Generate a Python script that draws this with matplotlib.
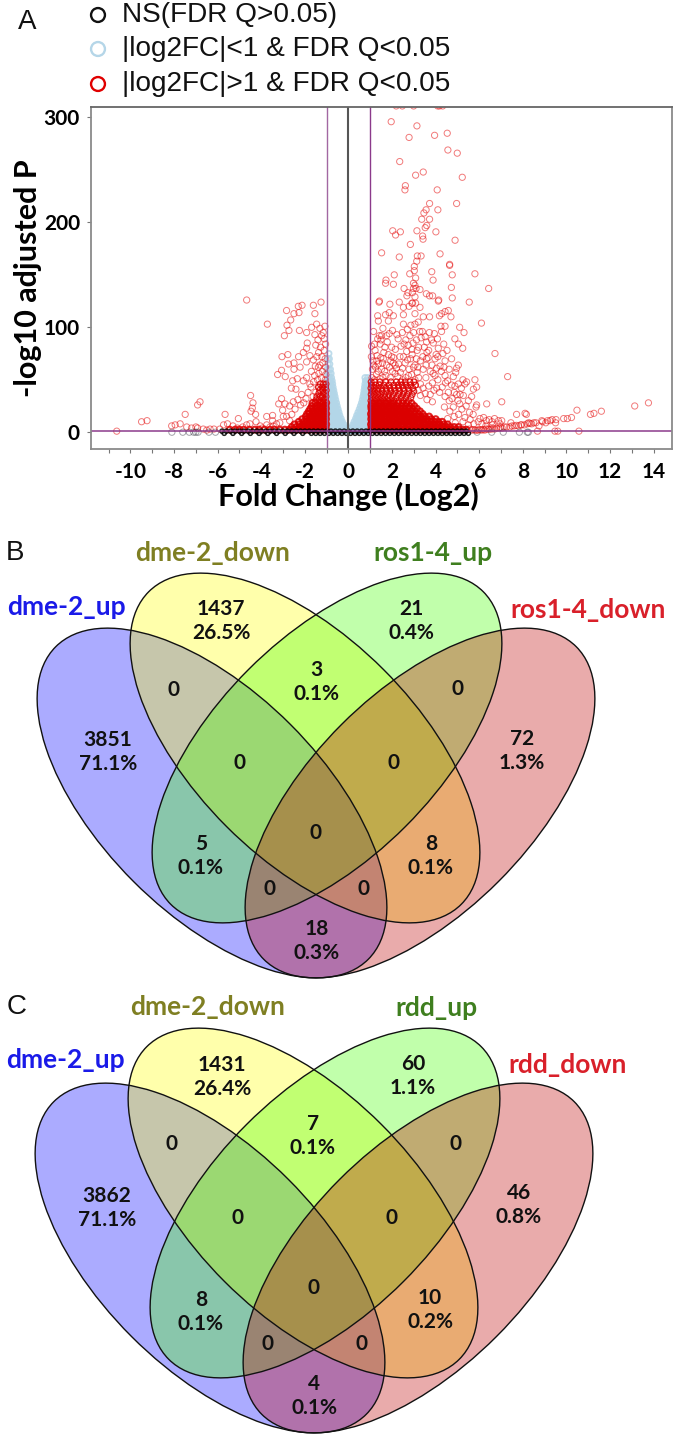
# Volcano plot and two four-way Venn diagrams

import matplotlib
matplotlib.use('Agg')
import matplotlib.pyplot as plt
from matplotlib.patches import Ellipse
import numpy as np

# volcano: scattered significant points (log2 FC, -log10 P)
red_top = [(1.96,296),(3.14,292),(2.78,281),(3.95,283),(4.53,285),(4.56,269),(4.99,266),(2.35,258),(3.08,245),
           (3.43,248),(5.22,243),(2.61,235),(2.59,231),(4.07,231),(3.72,218),(4.96,218),(4.1,212),(3.56,212),
           (3.46,209),(3.36,203),(3.72,203),(3.59,197),(3.52,195),(2.03,192),(2.38,191),(2.16,188),(3.14,192),
           (4.01,191),(3.4,187),(3.42,184),(4.89,183),(2.84,179),(1.52,171),(2.33,167),(3.16,168),(3.33,168),
           (4.2,170),(3.13,163),(4.64,160),(4.64,159),(3.02,158),(3.02,154),(3.82,153),(2.1,150),(2.81,151),
           (5.8,151),(4.76,150),(3.08,147),(3.88,145),(1.72,145),(1.7,142),(2.06,141),(2.98,142),(4.72,138),
           (6.43,137),(3.05,140),(2.55,137),(2.98,137),(3.1,137),(3.28,136),(2.73,133),(2.93,133),(3.57,132),
           (3.72,130),(3.86,130),(2.68,130),(3.05,129),(4.14,126),(4.76,128),(2.33,124),(2.91,123),(3.08,123),
           (5.54,124),(1.4,124),(1.42,125),(1.9,122),(2.19,311),(2.47,311),(2.99,311),(4.09,311),(4.17,311),(4.32,311)]
red_mid = [(2.94,123),(3.28,119),(4.12,125),(2.52,119),(2.78,120),(1.34,111),(1.7,112),(1.87,114),(2.06,111),
           (1.37,106),(1.83,106),(2.52,112),(3.05,113),(3.43,110),(3.72,110),(4.27,113),(4.17,111),(4.7,110),
           (4.43,115),(4.58,116),(5.1,100),(5.3,95),(6.1,104),(3.2,105),(2.86,102),(3.05,103),(2.52,103),(2.7,98),
           (3.39,96),(3.94,94),(4.24,101),(4.43,101),(4.27,96),(2.02,97),(1.87,94),(1.75,92),(1.52,92),(1.34,89),
           (1.49,88),(1.06,82),(4.88,89),(5.04,84),(5.24,80),(6.72,75),(4.37,84),(4.12,80),(3.89,85),(3.58,86),
           (2.82,92),(2.96,85),(3.33,90),(2.28,89),(1.67,81),(1.98,81),(1.31,73),(2.67,77),(2.36,72),(1.98,72),
           (3.58,70),(3.97,70),(4.73,70),(4.43,68),(5.04,64),(4.96,61),(7.3,53),(5.8,50),(5.42,48),(4.81,53),
           (4.43,54),(4.04,61),(3.43,60),(3.05,64),(3.97,54),(1.37,65),(1.75,64),(2.2,61),(5.88,43),(5.73,41),
           (5.34,46),(5.04,46),(4.96,36),(5.27,35),(5.5,30),(5.65,34),(7.03,29),(6.34,27),(5.88,26),(5.1,27),
           (4.81,24),(7.71,17),(8.1,18),(6.03,13),(6.45,12),(7.03,11),(5.34,14),(4.43,34),(4.58,38),(4.73,45),
           (2.55,84),(3.15,78),(3.6,76),(2.85,70),(1.6,70),(2.05,66),(3.3,68),(4.2,63),(3.75,58),(3.15,57),
           (2.6,66),(5.85,24),(6.2,14),(6.7,13),(5.55,19),(5.2,22),(4.75,32),(4.3,43),(3.85,47),(4.1,50)]
red_fill = [(1.15,96),(1.22,78),(1.45,84),(1.58,99),(1.62,76),(1.78,86),(2.15,79),(2.22,93),(2.41,82),(2.47,95),
            (2.63,88),(2.74,83),(2.91,79),(2.99,95),(3.12,88),(3.22,81),(3.27,96),(3.48,81),(3.52,91),(3.68,78),
            (3.71,95),(3.81,88),(4.02,74),(4.08,89),(4.33,75),(4.52,78),(1.12,68),(1.24,62),(1.48,71),(1.52,60),
            (1.66,58),(1.83,74),(1.88,62),(2.08,71),(2.14,56),(2.3,65),(2.48,61),(2.52,72),(2.71,69),(2.78,60),
            (2.92,74),(2.98,62),(3.11,70),(3.18,62),(3.41,72),(3.56,64),(3.65,71),(3.83,64),(3.88,56),(4.1,72),
            (4.26,58),(4.38,62),(4.55,49),(4.62,60),(4.88,44),(4.92,57),(5.18,42),(5.25,50),(1.28,55),(1.58,52),
            (2.48,50),(2.75,54),(3.22,52),(3.55,52),(3.68,44),(3.92,40),(4.05,42),(4.18,38),(4.45,47),(4.62,30),
            (4.85,38),(5.02,30),(5.12,36),(5.4,25),(5.58,12),(5.72,17),(5.95,10),(6.12,8),(6.32,11),(6.58,10),
            (6.88,11),(5.05,17),(4.85,15),(5.25,10),(4.65,20),(4.4,24),(4.55,13),(4.9,9),(5.5,7),(5.75,8),
            (1.08,52),(1.2,50),(1.36,58),(1.44,51),(1.72,54),(1.92,52),(2.02,58),(2.26,53),(2.38,57),(2.62,52),
            (2.9,55),(3.05,50),(3.3,46),(3.42,42),(3.52,37),(3.3,35),(3.6,31),(3.2,40),(3.75,36),(3.85,29),
            (1.1,60),(1.16,64),(1.3,68),(1.56,66),(1.94,68),(2.14,64),(1.05,72),(1.2,84),(1.42,92)]
red_tail = [(13.76,28),(13.13,25),(11.6,20),(11.26,18),(11.1,17),(10.48,21),(10.23,14),(10.04,13),(9.87,13),
            (9.52,12),(9.34,12),(9.5,9),(9.13,11),(8.87,11),(9.05,9),(8.9,10),(8.74,6),(8.5,9),(8.26,9),(8.16,17),
            (8.07,7),(7.94,7),(10.57,1),(9.6,1),(9.47,1),(8.67,1),(7.8,6),(7.6,6),(7.4,5),(7.25,5),(7.05,4),
            (6.9,4),(6.7,3),(6.55,3),(6.4,3),(6.25,2),(6.1,2),(5.95,2),(5.8,2),(7.45,9),(6.95,8),(6.6,7),(6.3,6),
            (8.4,8),(8.2,8),(7.7,6.5),(7.5,6),(7.15,5),(6.98,4.5),(6.8,4),(6.62,3.5),(6.47,3),(6.32,3),(6.18,2.5),
            (6.02,2.5),(5.88,2),(5.72,2.5),(5.65,2),(5.55,3),(8.32,8.5),(8.6,9),(9.25,11),(7.9,7)]
red_left = [(-4.67,126),(-3.72,103),(-2.84,116),(-2.65,107),(-2.5,113),(-2.3,120),(-2.13,121),(-2.27,114),(-1.61,121),
            (-1.54,113),(-1.26,124),(-2.82,102),(-2.73,97),(-2.94,92),(-2.25,97),(-1.92,95),(-1.69,100),(-1.46,103),
            (-1.08,101),(-1.31,99),(-1.54,93),(-1.23,92),(-1.11,89),(-1.5,83),(-1.89,85),(-1.92,80),(-2.07,76),
            (-2.78,74),(-3.05,72),(-2.29,72),(-1.77,73),(-1.37,76),(-2.5,66),(-2.75,65),(-2.5,60),(-2.22,62),
            (-1.92,67),(-1.61,69),(-1.31,64),(-3.07,59),(-3.25,55),(-2.9,53),(-2.56,49),(-2.35,51),(-2.07,49),
            (-2.62,42),(-2.41,41),(-1.92,52),(-1.77,46),(-2.15,36),(-4.49,35),(-4.38,28),(-6.81,29),(-6.92,26),
            (-7.49,17),(-9.49,10),(-9.24,11),(-10.63,1),(-8.11,6),(-7.95,7),(-7.72,8),(-7.42,5),(-7,5),(-6.92,4),
            (-6.66,3),(-6.35,3),(-6.17,3),(-5.66,17),(-5.73,7),(-5.55,8),(-5.05,13),(-4.67,7),(-4.26,17),(-4.41,23),
            (-4.47,20),(-4.52,8),(-4.24,10),(-3.75,15),(-3.48,16),(-3.48,11),(-3.75,7),(-3.07,32),(-2.91,27),
            (-3.2,27),(-3.02,21),(-2.53,29),(-2.84,15),(-2.99,15),(-3.45,6),(-7.2,4),(-6.5,2),(-5.9,3),(-5.3,6),
            (-5.1,4),(-4.85,5),(-4.05,6),(-3.95,4),(-3.6,5),(-3.3,8),(-3.15,9),(-2.7,11),(-2.6,17),(-2.45,22),(-2.7,25)]

# volcano: dense red core, one list of log2 FC per -log10 P level
core_right_levels = [2.5, 5, 7.5, 10, 12.5, 15, 17.5, 20, 22.5, 25, 27.5, 30, 33, 36, 39, 42, 45, 48]
core_right_x = [
    [1.04,1.2,1.34,1.5,1.63,1.8,1.93,2.1,2.24,2.38,2.55,2.68,2.85,2.97,3.14,3.27,3.44,3.58,3.72,3.87,4.02,4.16,4.31,4.47,4.6,4.76,4.92,5.08,5.24,5.41],
    [1.06,1.18,1.36,1.48,1.65,1.78,1.95,2.08,2.26,2.4,2.53,2.7,2.83,3,3.12,3.3,3.42,3.6,3.74,3.85,4.04,4.18,4.33,4.5,4.66,4.85,5.05],
    [1.03,1.22,1.33,1.52,1.62,1.82,1.92,2.12,2.22,2.42,2.52,2.72,2.82,3.02,3.15,3.25,3.46,3.56,3.76,3.9,4.06,4.2,4.38,4.55],
    [1.07,1.17,1.37,1.47,1.67,1.77,1.97,2.07,2.27,2.37,2.57,2.67,2.87,2.96,3.17,3.28,3.47,3.62,3.78,3.95,4.12,4.3],
    [1.04,1.2,1.32,1.5,1.64,1.8,1.9,2.1,2.22,2.4,2.54,2.7,2.8,3,3.12,3.3,3.44,3.6,3.8,4],
    [1.06,1.16,1.36,1.46,1.66,1.76,1.96,2.06,2.26,2.36,2.56,2.66,2.86,2.98,3.16,3.32,3.5,3.7],
    [1.03,1.21,1.33,1.51,1.63,1.81,1.93,2.11,2.23,2.41,2.53,2.71,2.83,3.02,3.2,3.4],
    [1.07,1.18,1.37,1.48,1.67,1.78,1.97,2.08,2.27,2.38,2.57,2.68,2.88,3.05,3.28],
    [1.05,1.2,1.35,1.5,1.65,1.8,1.95,2.1,2.25,2.4,2.56,2.74,2.93,3.14],
    [1.04,1.22,1.34,1.52,1.64,1.82,1.94,2.12,2.24,2.43,2.6,2.8,3.02],
    [1.07,1.17,1.37,1.47,1.67,1.77,1.97,2.07,2.28,2.48,2.66,2.9],
    [1.03,1.2,1.33,1.5,1.63,1.8,1.93,2.1,2.3,2.52,2.76],
    [1.06,1.22,1.36,1.52,1.66,1.82,2.0,2.2,2.42,2.62,2.86],
    [1.04,1.18,1.34,1.48,1.66,1.86,2.05,2.3,2.5,2.7,2.92],
    [1.07,1.2,1.37,1.55,1.75,1.95,2.15,2.35,2.55,2.78,3.0],
    [1.03,1.18,1.35,1.52,1.72,1.9,2.1,2.3,2.52,2.74,2.95],
    [1.06,1.25,1.42,1.62,1.85,2.08,2.28,2.46,2.65,2.85,3.08],
    [1.04,1.2,1.45,1.7,1.95,2.2,2.4,2.6,2.82,3.0],
]
core_left_levels = [2.5, 5, 7.5, 10, 12.5, 15, 17.5, 20, 22.5, 25, 28, 31, 34, 37, 40, 43, 46]
core_left_x = [
    [-1.03,-1.18,-1.32,-1.48,-1.62,-1.78,-1.92,-2.08,-2.22,-2.38,-2.54,-2.72,-2.92,-3.15,-3.4,-3.6,-3.85,-4.1,-4.3,-4.55,-4.8,-5,-5.2,-5.45],
    [-1.05,-1.16,-1.34,-1.46,-1.64,-1.76,-1.94,-2.06,-2.24,-2.4,-2.6],
    [-1.02,-1.2,-1.3,-1.5,-1.6,-1.8,-1.9,-2.1,-2.25,-2.48],
    [-1.06,-1.15,-1.35,-1.45,-1.65,-1.75,-1.95,-2.05,-2.28],
    [-1.03,-1.2,-1.3,-1.48,-1.62,-1.78,-1.92,-2.12],
    [-1.05,-1.16,-1.33,-1.46,-1.64,-1.76,-1.96],
    [-1.02,-1.18,-1.31,-1.5,-1.6,-1.8,-1.9],
    [-1.06,-1.15,-1.35,-1.45,-1.65,-1.82],
    [-1.03,-1.2,-1.3,-1.48,-1.62,-1.75],
    [-1.05,-1.16,-1.33,-1.46,-1.68],
    [-1.02,-1.18,-1.31,-1.52,-1.65],
    [-1.06,-1.15,-1.35,-1.48],
    [-1.03,-1.2,-1.3,-1.45],
    [-1.05,-1.16,-1.36],
    [-1.02,-1.18,-1.32],
    [-1.05,-1.2,-1.38],
    [-1.03,-1.15,-1.3],
]
# sparser red above the solid part
loose_left = [(-1.06,50),(-1.24,52),(-1.42,50),(-1.6,48),(-1.72,43),(-1.85,38),(-1.95,32),(-2.05,28),(-2.2,26),(-2.32,31),
              (-1.04,55),(-1.2,58),(-1.36,56),(-1.55,54),(-1.7,58),(-1.05,62),(-1.18,66),(-1.38,62),(-1.52,63),(-1.07,70),
              (-1.22,72),(-1.45,72),(-1.12,78),(-1.28,81),(-1.05,84),(-1.4,88),(-1.16,95),(-1.35,43),(-1.5,38),(-1.62,34)]

# volcano: pale blue wedges either side of zero
blue_levels = [1.5, 4, 7, 10, 13, 16, 19, 22, 25, 28, 31, 34, 37, 40, 43, 46, 49, 52, 56, 60, 65, 70, 75]
blue_left_x = [
    [-0.03,-0.09,-0.16,-0.24,-0.32,-0.4,-0.48,-0.56,-0.64,-0.72,-0.8,-0.88,-0.96],
    [-0.11,-0.19,-0.27,-0.35,-0.43,-0.51,-0.59,-0.67,-0.75,-0.83,-0.91,-0.98],
    [-0.2,-0.28,-0.36,-0.44,-0.52,-0.6,-0.68,-0.76,-0.84,-0.92,-0.98],
    [-0.28,-0.36,-0.44,-0.52,-0.6,-0.68,-0.76,-0.84,-0.92,-0.98],
    [-0.34,-0.42,-0.5,-0.58,-0.66,-0.74,-0.82,-0.9,-0.98],
    [-0.4,-0.48,-0.56,-0.64,-0.72,-0.8,-0.88,-0.96],
    [-0.44,-0.52,-0.6,-0.68,-0.76,-0.84,-0.92,-0.98],
    [-0.48,-0.56,-0.64,-0.72,-0.8,-0.88,-0.96],
    [-0.52,-0.6,-0.68,-0.76,-0.84,-0.92,-0.98],
    [-0.55,-0.63,-0.71,-0.79,-0.87,-0.95],
    [-0.59,-0.67,-0.75,-0.83,-0.91,-0.98],
    [-0.62,-0.7,-0.78,-0.86,-0.94],
    [-0.65,-0.73,-0.81,-0.89,-0.97],
    [-0.68,-0.76,-0.84,-0.92,-0.98],
    [-0.71,-0.79,-0.87,-0.95],
    [-0.73,-0.81,-0.89,-0.97],
    [-0.75,-0.83,-0.91,-0.98],
    [-0.78,-0.86,-0.94],
    [-0.8,-0.88,-0.96],
    [-0.83,-0.91,-0.98],
    [-0.86,-0.94],
    [-0.88,-0.96],
    [-0.9],
]
blue_right_x = [
    [0.04,0.11,0.18,0.26,0.34,0.42,0.5,0.58,0.66,0.74,0.82,0.9,0.97],
    [0.12,0.2,0.28,0.36,0.44,0.52,0.6,0.68,0.76,0.84,0.92,0.98],
    [0.2,0.28,0.36,0.44,0.52,0.6,0.68,0.76,0.84,0.92,0.98],
    [0.26,0.34,0.42,0.5,0.58,0.66,0.74,0.82,0.9,0.97],
    [0.33,0.41,0.49,0.57,0.65,0.73,0.81,0.89,0.96],
    [0.38,0.46,0.54,0.62,0.7,0.78,0.86,0.94],
    [0.44,0.52,0.6,0.68,0.76,0.84,0.92,0.98],
    [0.5,0.58,0.66,0.74,0.82,0.9,0.97],
    [0.55,0.63,0.71,0.79,0.87,0.95],
    [0.6,0.68,0.76,0.84,0.92],
    [0.64,0.72,0.8,0.88,0.96],
    [0.67,0.75,0.83,0.91],
    [0.7,0.78,0.86,0.94],
    [0.72,0.8,0.88,0.96],
    [0.74,0.82,0.9],
    [0.76,0.84,0.92],
    [0.78,0.86,0.94],
    [0.76,0.88],
    [],
    [],
    [],
    [],
    [],
]

# volcano: not significant points sit along zero
ns_upper_x = [-5.8,-5.6,-5.4,-5.2,-5,-4.8,-4.6,-4.4,-4.2,-4,-3.8,-3.6,-3.4,-3.2,-3,-2.8,-2.6,-2.4,-2.2,-2,-1.8,-1.6,-1.4,-1.2,
              -1,-0.8,-0.6,-0.4,-0.2,0,0.2,0.4,0.6,0.8,1,1.2,1.4,1.6,1.8,2,2.2,2.4,2.6,2.8,3,3.2,3.4,3.6,3.8,4,4.2,4.4,4.6,4.8,5,5.2,5.4]
ns_lower_x = [-5.7,-5.3,-4.9,-4.5,-4.1,-3.7,-3.3,-2.9,-2.5,-2.1,-1.7,-1.5,-1.3,-1.1,-0.9,-0.7,-0.5,-0.3,-0.1,0.1,0.3,0.5,0.7,0.9,
              1.1,1.3,1.5,1.7,1.9,2.1,2.3,2.5,2.7,2.9,3.1,3.3,3.5,3.7,3.9,4.1,4.3,4.5,4.7,4.9,5.1,5.3,5.5]
ns_far_x = [-8.1,-7.6,-7.3,-7.1,-7,-6.9,-6.4,-6.1,5.9,6.57,7.1,7.84,8.2,8.25]
ns_far_y = [0,0,0,0,0,0,0,0,0,0,0,0,0,0]

xticks = list(range(-11, 15))
xlabels = [str(t) if t % 2 == 0 else '' for t in xticks]
yticks = [0, 100, 200, 300]

legend_labels = ['NS(FDR Q>0.05)', '|log2FC|<1 & FDR Q<0.05', '|log2FC|>1 & FDR Q<0.05']
legend_colors = ['#111111', '#B5D6E8', '#E00000']

# venn diagrams
set_colors = ['#0000FF', '#FFFF00', '#44FF00', '#BE0000']
label_colors = ['#1A1AE8', '#7F7F22', '#3F7F1F', '#D9202A']
labels_b = ['dme-2_up', 'dme-2_down', 'ros1-4_up', 'ros1-4_down']
labels_c = ['dme-2_up', 'dme-2_down', 'rdd_up', 'rdd_down']
counts_b = ['1437\n26.5%', '21\n0.4%', '0', '3\n0.1%', '0', '3851\n71.1%', '0', '0', '72\n1.3%', '0',
            '5\n0.1%', '8\n0.1%', '0', '0', '18\n0.3%']
counts_c = ['1431\n26.4%', '60\n1.1%', '0', '7\n0.1%', '0', '3862\n71.1%', '0', '0', '46\n0.8%', '0',
            '8\n0.1%', '10\n0.2%', '0', '0', '4\n0.1%']


def pairs(points):
    arr = np.array(points, dtype=float)
    return arr[:, 0], arr[:, 1]


def rows(levels, xs):
    x = np.concatenate([np.array(r, dtype=float) for r in xs])
    y = np.concatenate([np.full(len(r), float(l)) for l, r in zip(levels, xs)])
    return x, y


def venn(ov, dx, dy, labels, label_pos, counts, count_pos):
    centers = [(212, 803), (305, 748), (327, 748), (420, 803)]
    angles = [45, 45, -45, -45]
    for (cx, cy), a, c in zip(centers, angles, set_colors):
        ov.add_patch(Ellipse((cx + dx, cy + dy), 442, 222, angle=a, facecolor=c, edgecolor='none', alpha=0.33))
    for (cx, cy), a in zip(centers, angles):
        ov.add_patch(Ellipse((cx + dx, cy + dy), 442, 222, angle=a, facecolor='none', edgecolor='#111111', lw=1.0))
    for t, (x, y), c in zip(labels, label_pos, label_colors):
        ov.text(x, y, t, color=c, ha='center', va='center', fontsize=19, fontweight='bold', family='Lato')
    for t, (x, y) in zip(counts, count_pos):
        ov.text(x, y, t, color='#111111', ha='center', va='center', fontsize=15, fontweight='bold',
                family='Lato', linespacing=1.22)


fig = plt.figure(figsize=(6.77, 14.4), dpi=100)
W, H = 677.0, 1440.0

ax = fig.add_axes([91 / W, 1 - 449 / H, 581 / W, 342 / H])
ax.set_xlim(-11.81, 14.84)
ax.set_ylim(-16, 310)

blue_l = rows(blue_levels, blue_left_x)
blue_r = rows(blue_levels, blue_right_x)
ax.scatter(blue_l[0], blue_l[1], s=15, facecolors='none', edgecolors=(0.70, 0.84, 0.91, 0.85), linewidths=1.3)
ax.scatter(blue_r[0], blue_r[1], s=15, facecolors='none', edgecolors=(0.70, 0.84, 0.91, 0.85), linewidths=1.3)

for pts in [red_top, red_mid, red_fill, red_tail, red_left, loose_left]:
    x, y = pairs(pts)
    ax.scatter(x, y, s=20, facecolors='none', edgecolors=(0.90, 0.05, 0.05, 0.55), linewidths=0.7)
# only the low part of the core is solid, above it the rings stay open
for lv, xs, cut in [(core_right_levels, core_right_x, 28), (core_left_levels, core_left_x, 30)]:
    x, y = rows(lv, xs)
    ax.scatter(x, y, s=17, facecolors='none', edgecolors=(0.86, 0.0, 0.0, 0.85),
               linewidths=np.where(y < cut, 1.5, 0.9))

ax.scatter(ns_far_x, ns_far_y, s=20, facecolors='none', edgecolors=(0.2, 0.2, 0.25, 0.45), linewidths=0.7)
ax.scatter(ns_upper_x, np.ones(len(ns_upper_x)), s=9, facecolors='none', edgecolors=(0, 0, 0, 0.85), linewidths=1.1)
ax.scatter(ns_lower_x, -np.ones(len(ns_lower_x)), s=9, facecolors='none', edgecolors=(0, 0, 0, 0.85), linewidths=1.1)

ax.axvline(0, color='#555555', lw=1.5)
ax.axvline(-1, color='#A267A2', lw=1.0)
ax.axvline(1, color='#8B3A8B', lw=1.0)
ax.axhline(1.3, color='#8B3A8B', lw=1.1)

for s in ax.spines.values():
    s.set_color('#8A8A8A')
    s.set_linewidth(1.3)
ax.spines['top'].set_color('#666666')
ax.set_xticks(xticks)
ax.set_xticklabels(xlabels)
ax.set_yticks(yticks)
ax.tick_params(axis='x', length=3, width=0.8, color='#777777', pad=6, labelsize=15)
ax.tick_params(axis='y', length=3, width=0.8, color='#777777', pad=5, labelsize=15)
for t in ax.get_xticklabels() + ax.get_yticklabels():
    t.set_family('Lato')
    t.set_fontweight('bold')

# overlay in image pixels for panel letters, legend and venn diagrams
ov = fig.add_axes([0, 0, 1, 1], facecolor='none')
ov.set_xlim(0, W)
ov.set_ylim(H, 0)
ov.axis('off')

ov.text(348, 496, 'Fold Change (Log2)', ha='center', va='center', fontsize=22, fontweight='bold',
        family='Lato', color='#000000')
ov.text(28, 278, '-log10 adjusted P', ha='center', va='center', rotation=90, fontsize=22,
        fontweight='bold', family='Lato', color='#000000')

for t, c, y in zip(legend_labels, legend_colors, [15, 49, 84]):
    ov.scatter([98], [y], s=100, facecolors='none', edgecolors=c, linewidths=1.7)
    ov.text(122, y, t, ha='left', va='center', fontsize=20.2, family='Liberation Sans', color='#111111')

ov.text(27, 22, 'A', ha='center', va='center', fontsize=20, family='Liberation Sans', color='#111111')
ov.text(15, 553, 'B', ha='center', va='center', fontsize=20, family='Liberation Sans', color='#111111')
ov.text(17, 1007, 'C', ha='center', va='center', fontsize=20, family='Liberation Sans', color='#111111')

venn(ov, 0, 0, labels_b, [(66, 607), (213, 553), (433, 553), (588, 610)], counts_b,
     [(221, 621), (411, 621), (173, 690), (316, 682), (458, 689), (108, 752), (240, 763), (394, 763), (522, 751),
      (316, 833), (201, 856), (431, 856), (270, 889), (364, 889), (317, 941)])
venn(ov, -2, 455, labels_c, [(65, 1060), (208, 1007), (436, 1008), (568, 1065)], counts_c,
     [(222, 1077), (413, 1076), (172, 1144), (313, 1136), (456, 1144), (107, 1208), (238, 1218), (392, 1218),
      (519, 1205), (314, 1288), (201, 1312), (430, 1310), (268, 1344), (362, 1344), (314, 1396)])

savefile = 'out.png'
print('Saving figure to: ', savefile)
plt.savefig(savefile, dpi=100)
